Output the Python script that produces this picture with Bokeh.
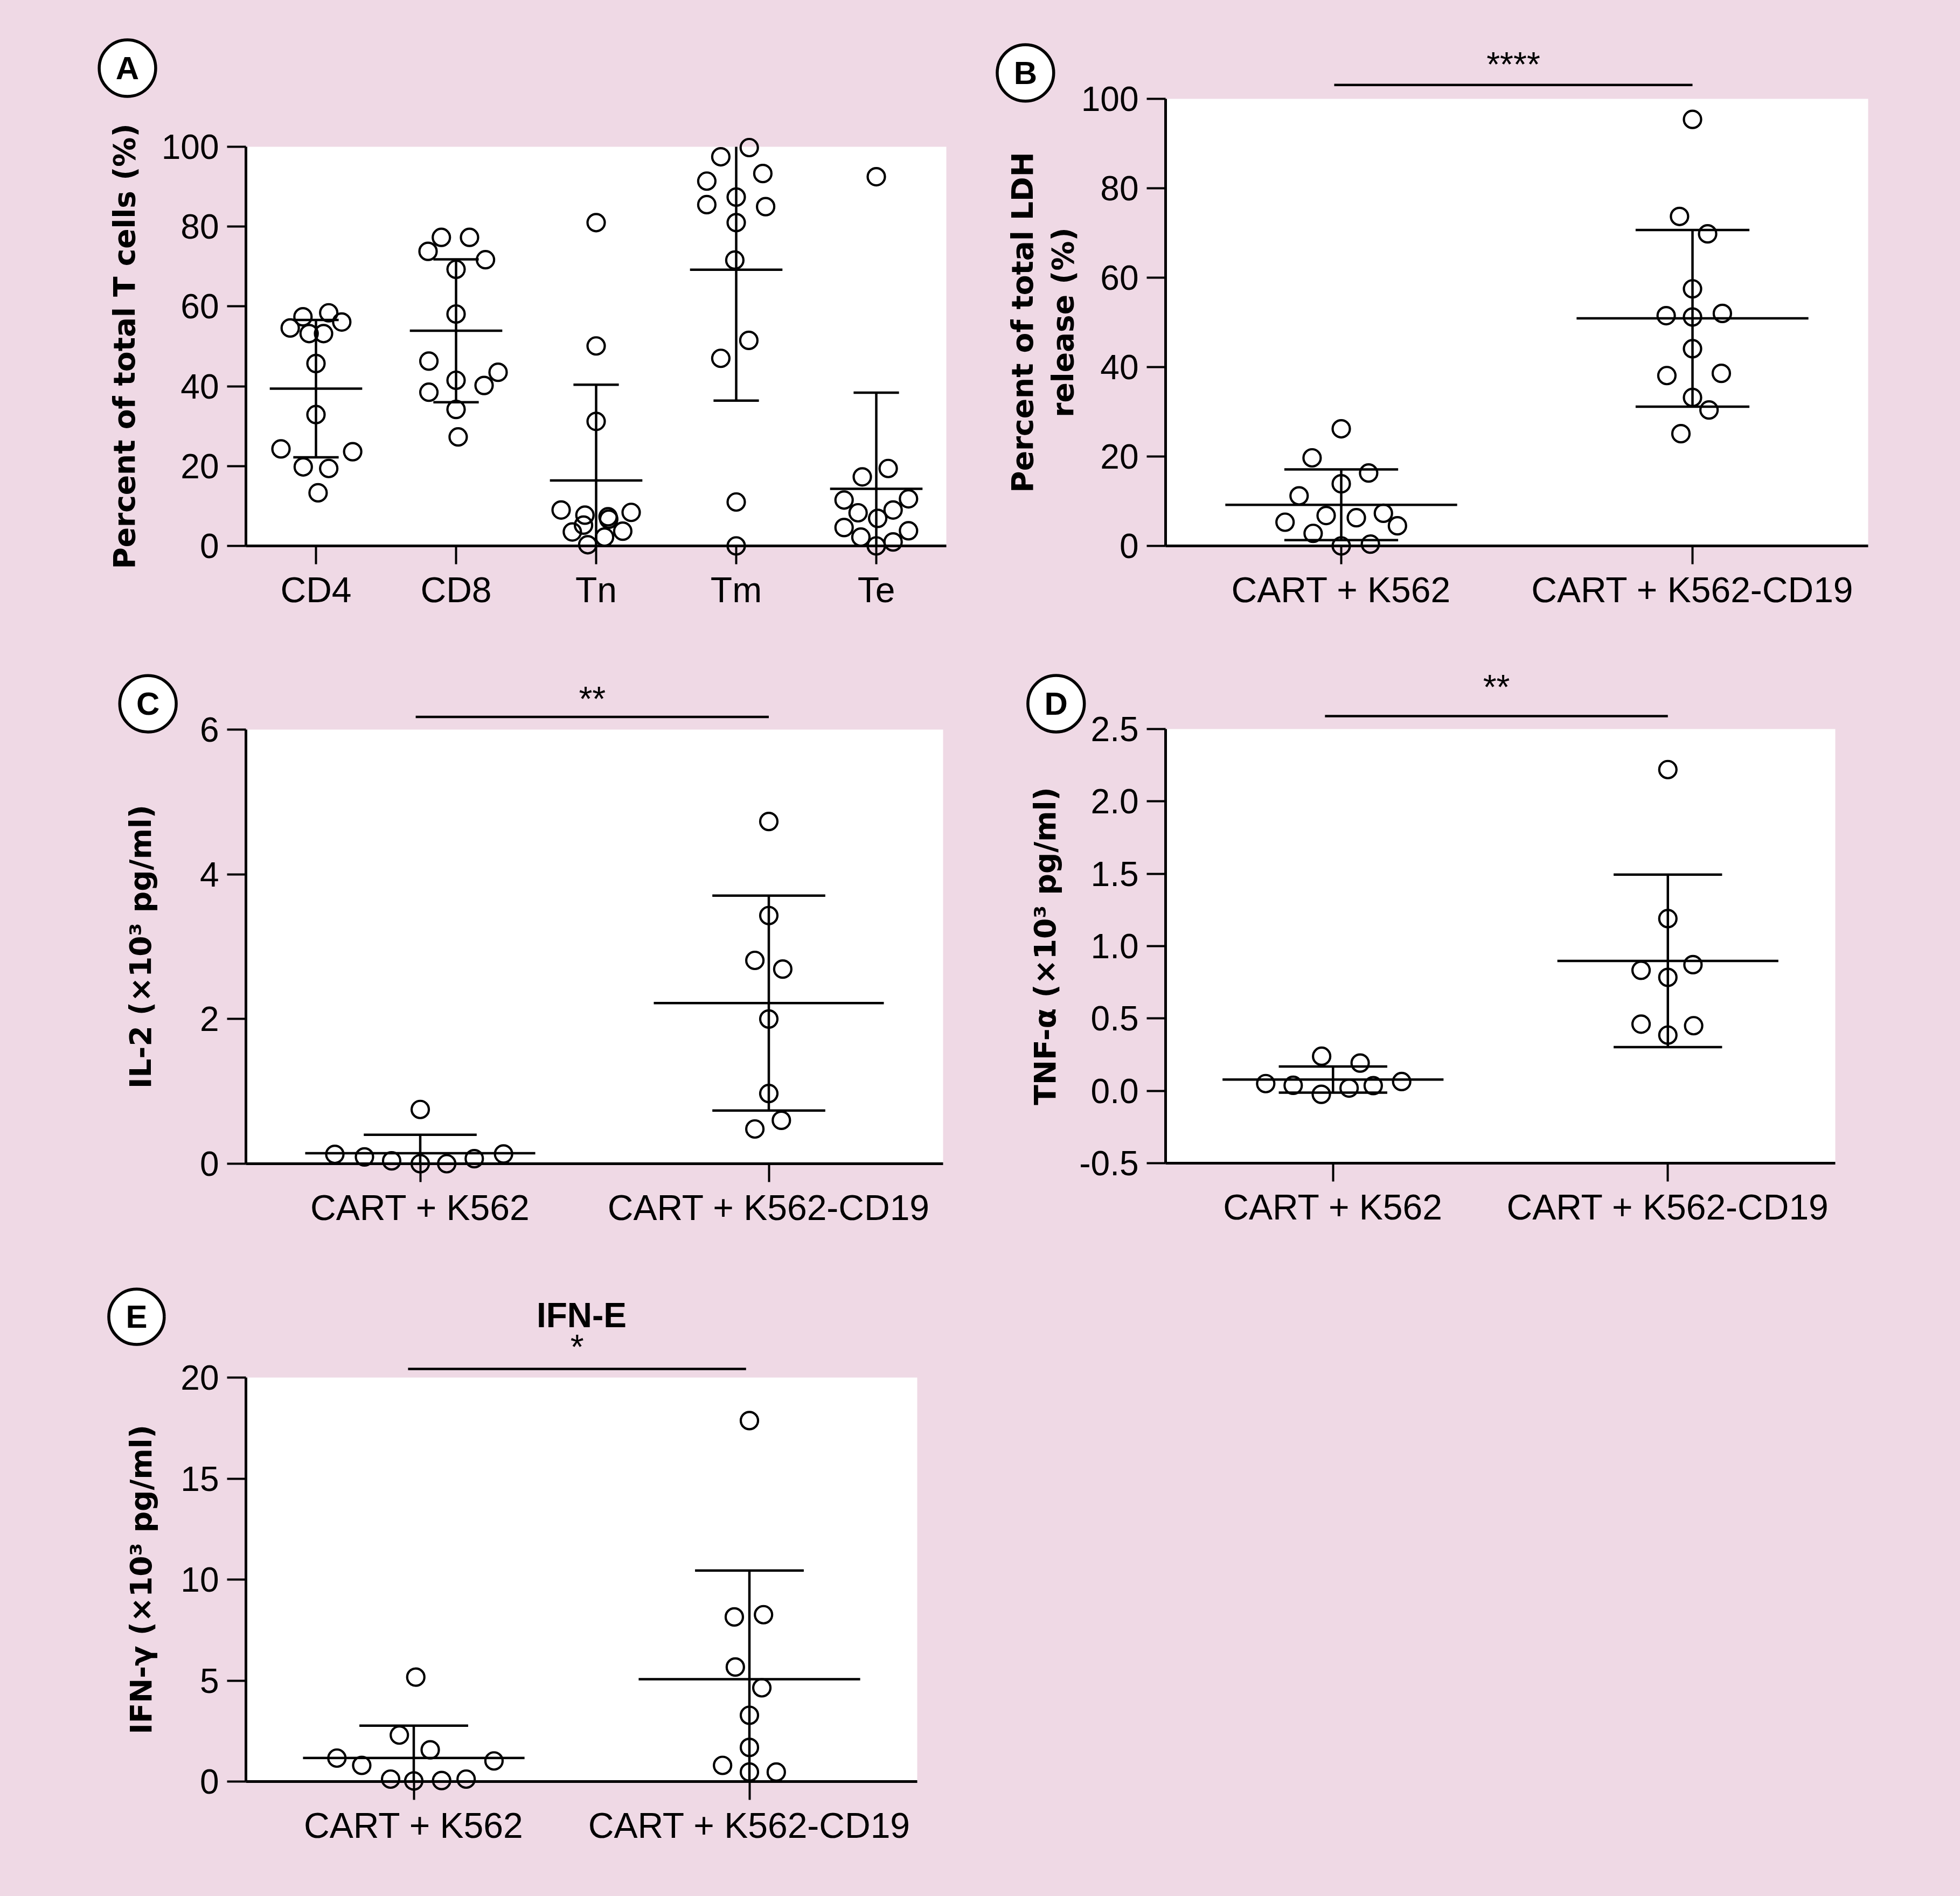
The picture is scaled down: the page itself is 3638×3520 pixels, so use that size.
from bokeh.plotting import figure
from bokeh.models import Range1d, FixedTicker, NumeralTickFormatter, Spacer
from bokeh.layouts import row, column
from bokeh.embed import file_html
from bokeh.resources import INLINE
from bokeh.core.properties import value

PINK = "#EFD9E5"
NUM_FONT = "Liberation Sans"
LAB_FONT = "DejaVu Sans"

# ---------------- Panel A data ----------------
a_categories = ["CD4", "CD8", "Tn", "Tm", "Te"]
cd4_values = [57.4, 58.4, 54.6, 56.1, 53.2, 53.2, 45.7, 32.9, 24.3, 23.6, 19.8, 19.4, 13.3]
cd8_values = [77.3, 77.3, 73.8, 71.7, 69.3, 58.1, 46.3, 43.5, 41.5, 40.2, 38.5, 34.2, 27.3]
tn_values = [81.0, 50.1, 31.2, 9.0, 8.4, 7.7, 7.3, 6.7, 5.2, 3.5, 3.7, 2.2, 0.3]
tm_values = [99.8, 97.5, 91.4, 93.3, 87.4, 85.5, 85.0, 81.0, 71.6, 51.5, 47.0, 11.0, 0.0]
te_values = [92.5, 19.4, 17.3, 11.5, 11.8, 9.0, 8.3, 6.9, 4.6, 3.8, 2.2, 1.0, 0.0]
a_means = [39.4, 53.9, 16.4, 69.2, 14.3]
a_sds = [17.2, 17.9, 24.0, 32.8, 24.1]
# horizontal scatter offsets of the points (fraction of a category width)
cd4_jitter = [-0.093, 0.091, -0.184, 0.184, -0.049, 0.054, 0, 0, -0.25, 0.262, -0.091, 0.091, 0.015]
cd8_jitter = [-0.105, 0.096, -0.2, 0.21, 0, 0, -0.194, 0.3, 0, 0.2, -0.194, 0, 0.015]
tn_jitter = [0, 0, 0, -0.25, 0.25, -0.08, 0.085, 0.09, -0.09, -0.17, 0.19, 0.06, -0.06]
tm_jitter = [0.093, -0.11, -0.21, 0.19, 0, -0.21, 0.21, 0, -0.01, 0.09, -0.11, 0, 0]
te_jitter = [0, 0.085, -0.1, -0.23, 0.23, 0.12, -0.13, 0.01, -0.23, 0.23, -0.11, 0.12, 0]

# ---------------- Panels B-E data ----------------
pair_categories = ["CART + K562", "CART + K562-CD19"]

ldh_k562 = [26.2, 19.7, 16.3, 13.9, 11.2, 6.8, 6.3, 7.3, 5.3, 4.5, 2.8, 0.0, 0.4]
ldh_cd19 = [95.4, 73.7, 69.8, 57.5, 51.5, 51.2, 52.0, 44.1, 38.1, 38.6, 33.2, 30.4, 25.1]
ldh_means = [9.2, 50.9]
ldh_sds = [7.9, 19.75]
ldh_k562_jitter = [0, -0.083, 0.078, 0, -0.12, -0.043, 0.043, 0.12, -0.16, 0.16, -0.08, 0, 0.083]
ldh_cd19_jitter = [0, -0.037, 0.043, 0, -0.075, 0, 0.085, 0, -0.073, 0.082, 0, 0.047, -0.033]

il2_k562 = [0.75, 0.13, 0.094, 0.04, 0.0, 0.0, 0.07, 0.135]
il2_cd19 = [4.73, 3.43, 2.81, 2.69, 2.0, 0.97, 0.60, 0.48]
il2_means = [0.146, 2.22]
il2_sds = [0.254, 1.485]
il2_k562_jitter = [0, -0.245, -0.16, -0.082, 0, 0.076, 0.155, 0.239]
il2_cd19_jitter = [0, 0, -0.04, 0.04, 0, 0, 0.036, -0.04]

tnf_k562 = [0.239, 0.192, 0.05, 0.038, -0.024, 0.019, 0.036, 0.064]
tnf_cd19 = [2.22, 1.19, 0.833, 0.872, 0.784, 0.461, 0.45, 0.385]
tnf_means = [0.078, 0.898]
tnf_sds = [0.09, 0.596]
tnf_k562_jitter = [-0.034, 0.081, -0.201, -0.119, -0.035, 0.048, 0.12, 0.205]
tnf_cd19_jitter = [0, 0, -0.08, 0.075, 0, -0.08, 0.077, 0]

ifn_k562 = [5.17, 2.30, 1.57, 1.16, 1.02, 0.80, 0.12, 0.03, 0.05, 0.12]
ifn_cd19 = [17.87, 8.15, 8.26, 5.67, 4.64, 3.28, 1.69, 0.8, 0.47, 0.47]
ifn_means = [1.17, 5.07]
ifn_sds = [1.6, 5.38]
ifn_k562_jitter = [0.006, -0.043, 0.049, -0.229, 0.239, -0.155, -0.069, 0, 0.083, 0.156]
ifn_cd19_jitter = [0, -0.045, 0.042, -0.042, 0.037, 0, 0, -0.08, 0, 0.08]

a_ticks = [0, 20, 40, 60, 80, 100]
b_ticks = [0, 20, 40, 60, 80, 100]
c_ticks = [0, 2, 4, 6]
d_ticks = [-0.5, 0.0, 0.5, 1.0, 1.5, 2.0, 2.5]
e_ticks = [0, 5, 10, 15, 20]

LW = 4.5


def make_panel(width, height, borders, categories, groups, jitters, means, sds,
               y_range, y_ticks, y_format, y_label, label_standoff):
    left, right, top, bottom = borders
    n = len(categories)
    p = figure(width=width, height=height, x_range=Range1d(0, n),
               y_range=Range1d(*y_range), output_backend="svg",
               toolbar_location=None, min_border_left=left,
               min_border_right=right, min_border_top=top,
               min_border_bottom=bottom)
    p.border_fill_color = PINK
    p.background_fill_color = "white"
    p.outline_line_color = None
    p.xgrid.visible = False
    p.ygrid.visible = False

    centers = [i + 0.5 for i in range(n)]
    xa = p.xaxis[0]
    xa.ticker = FixedTicker(ticks=centers)
    xa.major_label_overrides = {c: cat for c, cat in zip(centers, categories)}
    xa.major_label_text_font = NUM_FONT
    xa.major_label_text_font_size = "66px"
    xa.major_label_text_color = "black"
    xa.major_label_standoff = 10
    xa.minor_tick_line_color = None
    xa.major_tick_in = 0
    xa.major_tick_out = 34
    xa.major_tick_line_width = 4
    xa.axis_line_width = 5

    ya = p.yaxis[0]
    ya.ticker = FixedTicker(ticks=y_ticks)
    ya.formatter = NumeralTickFormatter(format=y_format)
    ya.major_label_text_font = NUM_FONT
    ya.major_label_text_font_size = "64px"
    ya.major_label_text_color = "black"
    ya.major_label_standoff = 15
    ya.minor_tick_line_color = None
    ya.major_tick_in = 0
    ya.major_tick_out = 35
    ya.major_tick_line_width = 4
    ya.axis_line_width = 5
    ya.axis_label = y_label
    ya.axis_label_text_font = LAB_FONT
    ya.axis_label_text_font_style = "bold"
    ya.axis_label_text_font_size = "55px"
    ya.axis_label_text_color = "black"
    ya.axis_label_text_line_height = 1.17
    ya.axis_label_standoff = label_standoff

    # mean and SD bars
    upper = [m + s for m, s in zip(means, sds)]
    lower = [m - s for m, s in zip(means, sds)]
    p.segment(x0=[c - 0.33 for c in centers], x1=[c + 0.33 for c in centers],
              y0=means, y1=means, line_color="black", line_width=LW)
    p.segment(x0=centers, x1=centers, y0=lower, y1=upper,
              line_color="black", line_width=LW)
    p.segment(x0=[c - 0.162 for c in centers], x1=[c + 0.162 for c in centers],
              y0=upper, y1=upper, line_color="black", line_width=LW)
    p.segment(x0=[c - 0.162 for c in centers], x1=[c + 0.162 for c in centers],
              y0=lower, y1=lower, line_color="black", line_width=LW)

    # individual points
    for c, vals, jit in zip(centers, groups, jitters):
        p.scatter(x=[c + j for j in jit], y=vals, marker="circle", size=32,
                  fill_alpha=0, line_color="black", line_width=4.2,
                  level="overlay")
    return p


def add_letter(p, letter, x, y):
    p.text(x=[x], y=[y], text=[letter], text_align="center",
           text_baseline="middle", text_font=value(NUM_FONT),
           text_font_style="bold", text_font_size="60px",
           outline_shape="circle", padding=9,
           border_line_color="black", border_line_width=5.5,
           background_fill_color="white", level="annotation")


def add_sig(p, x0, x1, y_line, stars, y_text):
    p.line(x=[x0, x1], y=[y_line, y_line], line_color="black", line_width=LW,
           level="annotation")
    p.text(x=[(x0 + x1) / 2], y=[y_text], text=[stars], text_align="center",
           text_baseline="middle", text_font=value(NUM_FONT),
           text_font_size="64px", level="annotation")


# tile sizes
W1, W2 = 1820, 1818
H1, H2, H3 = 1170, 1160, 1190

pA = make_panel(W1, H1, (456, 64, 272, 157), a_categories,
                [cd4_values, cd8_values, tn_values, tm_values, te_values],
                [cd4_jitter, cd8_jitter, tn_jitter, tm_jitter, te_jitter],
                a_means, a_sds, (0, 100), a_ticks, "0",
                "Percent of total T cells (%)", 34)
add_letter(pA, "A", -0.846, 119.7)

pB = make_panel(W2, H1, (343, 171, 183, 157), pair_categories,
                [ldh_k562, ldh_cd19], [ldh_k562_jitter, ldh_cd19_jitter],
                ldh_means, ldh_sds, (0, 100), b_ticks, "0",
                "Percent of total LDH\nrelease (%)", -1)
add_letter(pB, "B", -0.399, 105.8)
add_sig(pB, 0.48, 1.5, 103.1, "****", 107.6)

pC = make_panel(W1, H2, (456, 70, 184, 170), pair_categories,
                [il2_k562, il2_cd19], [il2_k562_jitter, il2_cd19_jitter],
                il2_means, il2_sds, (0, 6), c_ticks, "0",
                "IL-2 (×10³ pg/ml)", 75)
add_letter(pC, "C", -0.281, 6.357)
add_sig(pC, 0.487, 1.5, 6.175, "**", 6.417)

pD = make_panel(W2, H2, (343, 232, 183, 171), pair_categories,
                [tnf_k562, tnf_cd19], [tnf_k562_jitter, tnf_cd19_jitter],
                tnf_means, tnf_sds, (-0.5, 2.5), d_ticks, "0.0",
                "TNF-α (×10³ pg/ml)", 28)
add_letter(pD, "D", -0.327, 2.675)
add_sig(pD, 0.476, 1.5, 2.589, "**", 2.787)

pE = make_panel(W1, H3, (456, 118, 227, 213), pair_categories,
                [ifn_k562, ifn_cd19], [ifn_k562_jitter, ifn_cd19_jitter],
                ifn_means, ifn_sds, (0, 20), e_ticks, "0",
                "IFN-γ (×10³ pg/ml)", 38)
add_letter(pE, "E", -0.326, 23.01)
add_sig(pE, 0.483, 1.49, 20.43, "*", 21.52)
pE.text(x=[1.0], y=[23.07], text=["IFN-E"], text_align="center",
        text_baseline="middle", text_font=value(NUM_FONT),
        text_font_style="bold", text_font_size="64px", level="annotation")

blank = Spacer(width=W2, height=H3, styles={"background-color": PINK})

bg = {"background-color": PINK}
layout = column(
    row(column(pA, styles=bg), column(pB, styles=bg), styles=bg),
    row(column(pC, styles=bg), column(pD, styles=bg), styles=bg),
    row(column(pE, styles=bg), blank, styles=bg),
    styles=bg,
)

open("out.html", "w").write(file_html(layout, INLINE))
